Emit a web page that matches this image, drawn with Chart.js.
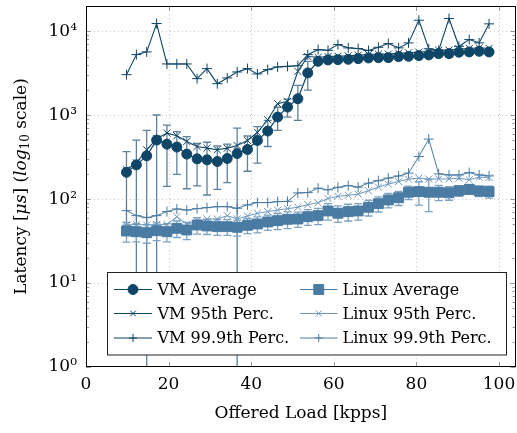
<!DOCTYPE html>
<html>
<head>
<meta charset="utf-8">
<script src="https://cdn.jsdelivr.net/npm/chart.js@4.4.1/dist/chart.umd.min.js"></script>
<style>
html, body { margin: 0; padding: 0; background: #fff; overflow: hidden; }
#wrap { width: 517px; height: 433px; }
</style>
</head>
<body>
<div id="wrap"><canvas id="grafica"></canvas></div>
<script>
// Offered load (kpps)
var loads = [9.8, 12.2, 14.7, 17.1, 19.6, 22.0, 24.4, 26.9, 29.3, 31.8, 34.2, 36.6, 39.1, 41.5, 44.0, 46.4, 48.8, 51.3, 53.7,
    56.2, 58.6, 61.0, 63.5, 65.9, 68.4, 70.8, 73.2, 75.7, 78.1, 80.6, 83.0, 85.4, 87.9, 90.3, 92.8, 95.2, 97.6];

// VM latencies (us)
var vmAvg = [209, 256, 328, 505, 452, 417, 344, 302, 294, 281, 305, 349, 390, 500, 647, 951, 1250, 1570, 3190,
    4385, 4550, 4590, 4630, 4720, 4810, 4850, 4850, 4990, 5030, 5130, 5230, 5420, 5420, 5620, 5670, 5770, 5670];
var vmStd = [160, 250, 330, 500, 310, 220, 211, 158, 182, 150, 148, 353, 175, 232, 223, 293, 300, 700, 1200,
    220, 200, 200, 200, 220, 220, 230, 230, 230, 250, 250, 260, 300, 500, 280, 300, 280, 280];
var vm95 = [223, 271, 387, 524, 612, 569, 486, 424, 405, 387, 405, 435, 500, 622, 883, 1371, 1460, 3330, 5000,
    4900, 5000, 5050, 5090, 5190, 5290, 5340, 5340, 5490, 5530, 5640, 5750, 5960, 5960, 6180, 6240, 6350, 6240];
var vm999 = [3040, 5270, 5680, 12360, 4080, 4080, 4080, 2725, 3590, 2375, 2780, 3275, 3590, 3100, 3490, 3760, 3820, 3890, 5270,
    6040, 5930, 6940, 6340, 6220, 5890, 6440, 7130, 6340, 7270, 13530, 6170, 5930, 14180, 6620, 7960, 7270, 12250];

// Linux latencies (us)
var linuxAvg = [41.7, 40.9, 39.8, 42.1, 40.9, 44.9, 42.9, 49.2, 47.9, 47.0, 47.0, 46.2, 48.8, 50.6, 53.5, 55.4, 57.5, 58, 61.8,
    63.6, 72.3, 67.9, 70.9, 72.3, 80, 88.3, 97.8, 104, 121, 123, 121, 121, 119, 126, 131, 125, 123];
var linuxStd = [11, 10, 10, 10, 10, 10, 10, 11, 10, 10, 10, 10, 10, 11, 11, 12, 13, 12, 13,
    14, 16, 15, 16, 16, 17, 18, 19, 20, 22, 38, 50, 25, 22, 18, 17, 18, 20];
var linux95 = [49, 50, 49, 50, 50, 61.8, 50, 55, 58, 58, 63.6, 58, 63, 67.9, 71, 74, 77, 80, 86,
    90.5, 102, 108, 111, 115, 126, 139, 151, 162, 173, 178, 174, 174, 174, 178, 170, 183, 181];
var linux999 = [72.9, 63.6, 60.2, 63.6, 71, 76.4, 74, 77, 79.2, 81.3, 81.3, 77.8, 85.3, 91, 91, 93.4, 94, 118.6, 119.6,
    135, 129, 138, 145, 139, 155, 166, 178, 189, 204, 322, 519, 200, 194, 194, 207, 194, 189];

var xTicks = [0, 20, 40, 60, 80, 100];
var yTicks = [1, 10, 100, 1000, 10000];
var yTickLabels = ['10\u2070', '10\u00b9', '10\u00b2', '10\u00b3', '10\u2074'];

var VM_COLOR = '#0f4567';
var VM_ERR = '#5d809b';
var LX_COLOR = '#4a7ba3';
var LX_LIGHT = '#6b98bd';
var LX_ERR = '#7ea3c2';
var FONT = "'DejaVu Serif', serif";

function puntos(valores) {
    return valores.map(function (v, i) { return { x: loads[i], y: v }; });
}

function serie(label, valores, color, estilo, radio, ancho) {
    return {
        label: label,
        data: puntos(valores),
        borderColor: color,
        backgroundColor: color,
        borderWidth: ancho,
        pointStyle: estilo,
        pointRadius: radio,
        pointHoverRadius: radio,
        pointBorderWidth: 1,
        tension: 0,
        fill: false
    };
}

var dsVmAvg = serie('VM Average', vmAvg, VM_COLOR, 'circle', 5, 1.2);
dsVmAvg.desviacion = vmStd;
dsVmAvg.colorError = VM_ERR;
var dsLxAvg = serie('Linux Average', linuxAvg, LX_COLOR, 'rect', 7, 1);
dsLxAvg.desviacion = linuxStd;
dsLxAvg.colorError = LX_ERR;

var datasets = [
    dsVmAvg,
    serie('VM 95th Perc.', vm95, VM_COLOR, 'crossRot', 5, 1.1),
    serie('VM 99.9th Perc.', vm999, VM_COLOR, 'cross', 5, 1.1),
    dsLxAvg,
    serie('Linux 95th Perc.', linux95, LX_LIGHT, 'crossRot', 5, 1),
    serie('Linux 99.9th Perc.', linux999, LX_COLOR, 'cross', 5, 1)
];

// Rejilla punteada, marco y marcas interiores (estilo pgfplots)
var marco = {
    id: 'marco',
    beforeDatasetsDraw: function (chart) {
        var ctx = chart.ctx, a = chart.chartArea;
        var sx = chart.scales.x, sy = chart.scales.y;
        ctx.save();
        ctx.strokeStyle = '#c8c8c8';
        ctx.lineWidth = 1;
        ctx.setLineDash([1, 3]);
        xTicks.forEach(function (v) {
            var px = Math.round(sx.getPixelForValue(v)) + 0.5;
            if (v === 0) return;
            ctx.beginPath(); ctx.moveTo(px, a.top); ctx.lineTo(px, a.bottom); ctx.stroke();
        });
        yTicks.forEach(function (v) {
            var py = Math.round(sy.getPixelForValue(v)) + 0.5;
            if (v === 1) return;
            ctx.beginPath(); ctx.moveTo(a.left, py); ctx.lineTo(a.right, py); ctx.stroke();
        });
        ctx.setLineDash([]);
        ctx.strokeStyle = '#999';
        ctx.lineWidth = 1;
        xTicks.forEach(function (v) {
            var px = Math.round(sx.getPixelForValue(v)) + 0.5;
            ctx.beginPath();
            ctx.moveTo(px, a.bottom); ctx.lineTo(px, a.bottom - 5);
            ctx.moveTo(px, a.top); ctx.lineTo(px, a.top + 5);
            ctx.stroke();
        });
        yTicks.forEach(function (v) {
            for (var m = 1; m <= 9; m++) {
                var val = v * m;
                if (val > sy.max) break;
                var py = Math.round(sy.getPixelForValue(val)) + 0.5;
                var l = m === 1 ? 5 : 3;
                ctx.beginPath();
                ctx.moveTo(a.left, py); ctx.lineTo(a.left + l, py);
                ctx.moveTo(a.right, py); ctx.lineTo(a.right - l, py);
                ctx.stroke();
            }
        });
        ctx.restore();
    }
};

// Barras de error (promedio +/- desviacion)
var barrasError = {
    id: 'barrasError',
    beforeDatasetsDraw: function (chart) {
        var ctx = chart.ctx, a = chart.chartArea;
        var sx = chart.scales.x, sy = chart.scales.y;
        ctx.save();
        ctx.beginPath();
        ctx.rect(a.left, a.top, a.right - a.left, a.bottom - a.top);
        ctx.clip();
        chart.data.datasets.forEach(function (ds) {
            if (!ds.desviacion) return;
            ctx.strokeStyle = ds.colorError;
            ctx.lineWidth = 1.3;
            ds.data.forEach(function (p, i) {
                var px = sx.getPixelForValue(p.x);
                var arriba = sy.getPixelForValue(p.y + ds.desviacion[i]);
                var bajoV = p.y - ds.desviacion[i];
                var abajo = bajoV > 0 ? sy.getPixelForValue(bajoV) : a.bottom + 2;
                ctx.beginPath();
                ctx.moveTo(px, arriba); ctx.lineTo(px, abajo);
                ctx.moveTo(px - 4, arriba); ctx.lineTo(px + 4, arriba);
                if (bajoV > 0) { ctx.moveTo(px - 4, abajo); ctx.lineTo(px + 4, abajo); }
                ctx.stroke();
            });
        });
        ctx.restore();
    },
    afterDatasetsDraw: function (chart) {
        var ctx = chart.ctx, a = chart.chartArea;
        ctx.save();
        ctx.strokeStyle = '#000';
        ctx.lineWidth = 1;
        ctx.strokeRect(Math.round(a.left) + 0.5, Math.round(a.top) + 0.5,
            Math.round(a.right - a.left) - 1, Math.round(a.bottom - a.top) - 1);
        ctx.restore();
    }
};

// Leyenda dentro del area, dos columnas
var leyenda = {
    id: 'leyenda',
    afterDatasetsDraw: function (chart) {
        var ctx = chart.ctx;
        var caja = { x: 107.5, y: 272.5, w: 399, h: 82.5 };
        ctx.save();
        ctx.fillStyle = '#fff';
        ctx.fillRect(caja.x, caja.y, caja.w, caja.h);
        ctx.strokeStyle = '#222';
        ctx.lineWidth = 1;
        ctx.strokeRect(caja.x, caja.y, caja.w, caja.h);
        var columnas = [{ l0: 114, l1: 152, tx: 157.5 }, { l0: 300, l1: 337.5, tx: 342.5 }];
        var filas = [289.5, 313.5, 338];
        chart.data.datasets.forEach(function (ds, i) {
            var c = columnas[Math.floor(i / 3)];
            var fy = filas[i % 3];
            ctx.strokeStyle = ds.borderColor;
            ctx.fillStyle = ds.backgroundColor;
            ctx.lineWidth = ds.borderWidth;
            ctx.beginPath(); ctx.moveTo(c.l0, fy); ctx.lineTo(c.l1, fy); ctx.stroke();
            ctx.lineWidth = 1;
            var r = ds.pointRadius;
            if (ds.pointStyle === 'cross' || ds.pointStyle === 'crossRot') r = 4;
            Chart.helpers.drawPoint(ctx, { pointStyle: ds.pointStyle, radius: r, rotation: 0, borderWidth: 1 },
                (c.l0 + c.l1) / 2, fy);
            ctx.fillStyle = '#000';
            ctx.font = '16px ' + FONT;
            ctx.textBaseline = 'middle';
            ctx.textAlign = 'left';
            ctx.fillText(ds.label, c.tx, fy + 1);
        });
        ctx.restore();
    }
};

// Titulos de los ejes
var titulos = {
    id: 'titulos',
    afterDraw: function (chart) {
        var ctx = chart.ctx, a = chart.chartArea;
        ctx.save();
        ctx.fillStyle = '#000';
        ctx.textBaseline = 'middle';
        ctx.textAlign = 'center';
        ctx.font = '17px ' + FONT;
        ctx.fillText('Offered Load [kpps]', (a.left + a.right) / 2, 414);

        var partes = [
            ['Latency [', '17px ' + FONT, 0],
            ['\u03bcs', 'italic 17px ' + FONT, 0],
            ['] (', '17px ' + FONT, 0],
            ['log', 'italic 17px ' + FONT, 0],
            ['10', '12px ' + FONT, 4],
            [' scale)', '17px ' + FONT, 0]
        ];
        var total = 0;
        partes.forEach(function (p) { ctx.font = p[1]; p.push(ctx.measureText(p[0]).width); total += p[3]; });
        ctx.translate(22, (a.top + a.bottom) / 2);
        ctx.rotate(-Math.PI / 2);
        ctx.textAlign = 'left';
        var x = -total / 2;
        partes.forEach(function (p) {
            ctx.font = p[1];
            ctx.fillText(p[0], x, p[2]);
            x += p[3];
        });
        ctx.restore();
    }
};

var ctx = document.getElementById('grafica');
window.grafica = new Chart(ctx, {
    type: 'line',
    data: { datasets: datasets },
    options: {
        responsive: true,
        maintainAspectRatio: false,
        animation: false,
        devicePixelRatio: 1,
        layout: { autoPadding: false, padding: { left: 0, right: 1.5, top: 6, bottom: 0 } },
        plugins: {
            legend: { display: false },
            tooltip: { enabled: false }
        },
        scales: {
            x: {
                type: 'linear',
                min: 0,
                max: 104,
                grid: { display: false, drawTicks: false },
                border: { display: false },
                afterBuildTicks: function (s) { s.ticks = xTicks.map(function (v) { return { value: v }; }); },
                afterFit: function (s) { s.height = 66; s.paddingLeft = 0; s.paddingRight = 0; },
                ticks: {
                    padding: 7,
                    maxRotation: 0,
                    color: '#000',
                    font: { family: FONT, size: 17 },
                    callback: function (v) { return String(v); }
                }
            },
            y: {
                type: 'logarithmic',
                min: 1,
                max: 20000,
                grid: { display: false, drawTicks: false },
                border: { display: false },
                afterBuildTicks: function (s) { s.ticks = yTicks.map(function (v) { return { value: v }; }); },
                afterFit: function (s) { s.width = 86; s.paddingTop = 0; s.paddingBottom = 0; },
                ticks: {
                    padding: 9,
                    color: '#000',
                    font: { family: FONT, size: 17 },
                    callback: function (v) {
                        var i = yTicks.indexOf(v);
                        return i >= 0 ? yTickLabels[i] : '';
                    }
                }
            }
        }
    },
    plugins: [marco, barrasError, leyenda, titulos]
});
</script>
</body>
</html>
